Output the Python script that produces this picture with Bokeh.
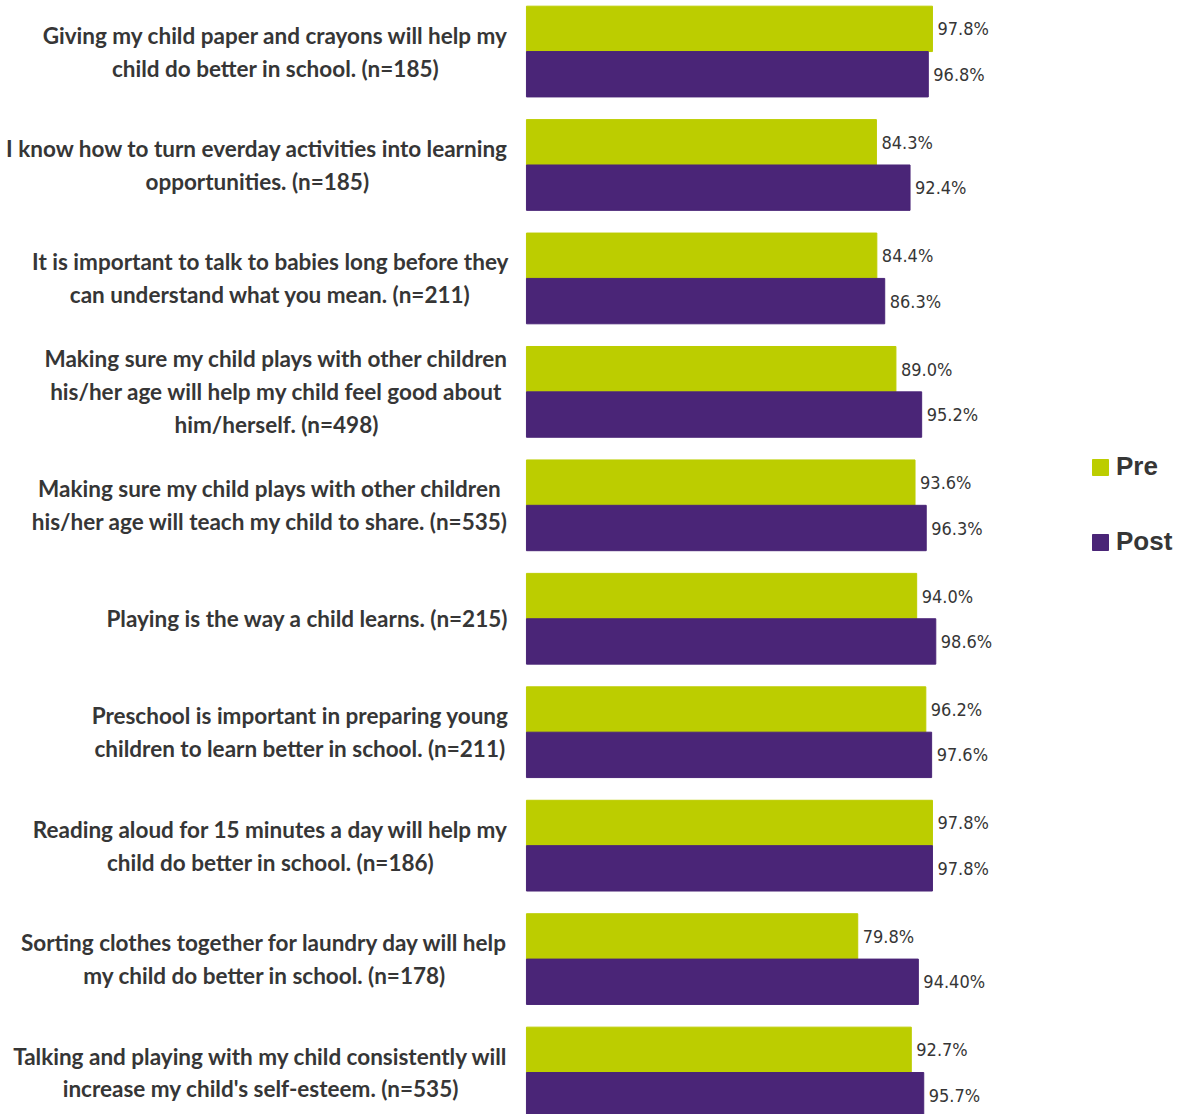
import numpy as np
from bokeh.plotting import figure
from bokeh.models import ColumnDataSource, Range1d, Legend, LegendItem
from bokeh.transform import dodge
from bokeh.core.properties import value
from bokeh.embed import file_html
from bokeh.resources import INLINE

categories = [
    "Giving my child paper and crayons will help my\nchild do better in school. (n=185)",
    "I know how to turn everday activities into learning\nopportunities. (n=185)",
    "It is important to talk to babies long before they\ncan understand what you mean. (n=211)",
    "Making sure my child plays with other children\nhis/her age will help my child feel good about\nhim/herself. (n=498)",
    "Making sure my child plays with other children\nhis/her age will teach my child to share. (n=535)",
    "Playing is the way a child learns. (n=215)",
    "Preschool is important in preparing young\nchildren to learn better in school. (n=211)",
    "Reading aloud for 15 minutes a day will help my\nchild do better in school. (n=186)",
    "Sorting clothes together for laundry day will help\nmy child do better in school. (n=178)",
    "Talking and playing with my child consistently will\nincrease my child's self-esteem. (n=535)",
]
pre = [97.8, 84.3, 84.4, 89.0, 93.6, 94.0, 96.2, 97.8, 79.8, 92.7]
post = [96.8, 92.4, 86.3, 95.2, 96.3, 98.6, 97.6, 97.8, 94.4, 95.7]
pre_labels = ["97.8%", "84.3%", "84.4%", "89.0%", "93.6%", "94.0%", "96.2%", "97.8%", "79.8%", "92.7%"]
post_labels = ["96.8%", "92.4%", "86.3%", "95.2%", "96.3%", "98.6%", "97.6%", "97.8%", "94.40%", "95.7%"]
series = ["Pre", "Post"]

PRE_COLOR = "#bccd00"
POST_COLOR = "#4a2577"
TEXT_COLOR = "#363636"
VALUE_FONT = value("'DejaVu Sans Condensed', 'Liberation Sans Narrow', Roboto, sans-serif")

src = ColumnDataSource(dict(
    y=np.arange(len(categories)),
    cat=categories,
    pre=pre,
    post=post,
    pre_lab=pre_labels,
    post_lab=post_labels,
))

W, H = 1191, 1114
p = figure(width=W, height=H, output_backend="svg", toolbar_location=None,
           x_range=Range1d(-126.7, 160.2), y_range=Range1d(9.37, -0.45),
           min_border=0, outline_line_color=None)
p.xaxis.visible = False
p.yaxis.visible = False
p.grid.visible = False

r_pre = p.hbar(y=dodge("y", -0.2, range=p.y_range), right="pre", left=0, height=0.4,
               color=PRE_COLOR, source=src)
r_post = p.hbar(y=dodge("y", 0.2, range=p.y_range), right="post", left=0, height=0.4,
                color=POST_COLOR, source=src)

p.text(x="pre", y=dodge("y", -0.2, range=p.y_range), text="pre_lab", source=src,
       x_offset=5, text_align="left", text_baseline="middle",
       text_font=VALUE_FONT, text_font_size="18px", text_color=TEXT_COLOR)
p.text(x="post", y=dodge("y", 0.2, range=p.y_range), text="post_lab", source=src,
       x_offset=5, text_align="left", text_baseline="middle",
       text_font=VALUE_FONT, text_font_size="18px", text_color=TEXT_COLOR)

p.text(x=0, y="y", text="cat", source=src, x_offset=-18,
       anchor="center_right", text_align="center", text_baseline="middle",
       text_font=value("Lato"), text_font_style="bold", text_font_size="22.5px",
       text_line_height=1.22, text_color=TEXT_COLOR)

legend = Legend(items=[LegendItem(label=series[0], renderers=[r_pre]),
                       LegendItem(label=series[1], renderers=[r_post])],
                location=(1090, 557), orientation="vertical",
                label_text_font="Liberation Sans", label_text_font_style="bold",
                label_text_font_size="26px", label_text_color=TEXT_COLOR,
                glyph_width=20, glyph_height=20, label_standoff=6,
                spacing=44, padding=0, margin=0,
                border_line_color=None, background_fill_alpha=0)
p.add_layout(legend, "center")

open("out.html", "w").write(file_html(p, INLINE))
